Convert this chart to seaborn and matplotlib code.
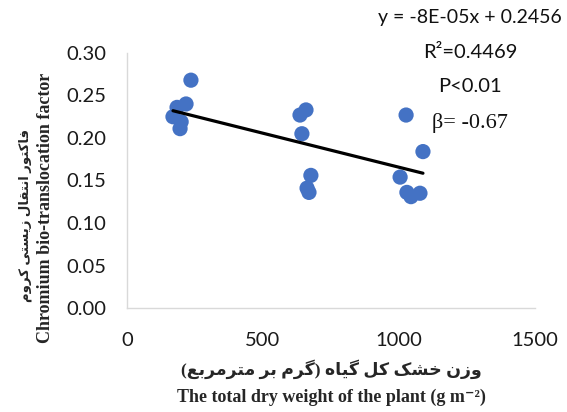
import numpy as np
import pandas as pd
import matplotlib
matplotlib.use("Agg")
import matplotlib.pyplot as plt
import seaborn as sns

# dry weight (g m-2) vs chromium bio-translocation factor
dry_weight = [235, 217, 184, 169, 199, 195,
              636, 658, 643, 676, 662, 669,
              1026, 1088, 1004, 1029, 1044, 1077]
transloc = [0.268, 0.240, 0.236, 0.225, 0.219, 0.211,
            0.227, 0.233, 0.205, 0.156, 0.141, 0.136,
            0.227, 0.184, 0.154, 0.136, 0.131, 0.135]

slope = -8e-05
intercept = 0.2456
r2 = 0.4469
beta = -0.67

x_ticks = [0, 500, 1000, 1500]
y_ticks = [0.00, 0.05, 0.10, 0.15, 0.20, 0.25, 0.30]

ylabel_fa = "فاکتور انتقال زیستی کروم"
ylabel_en = "Chromium bio-translocation factor"
xlabel_fa = "وزن خشک کل گیاه (گرم بر مترمربع)"
xlabel_en = "The total dry weight of the plant (g m⁻²)"

# matplotlib has no arabic shaping, so pick presentation forms by hand
# (isolated, final, initial, medial)
FORMS = {
    'ا': ('\uFE8D', '\uFE8E', None, None),
    'ب': ('\uFE8F', '\uFE90', '\uFE91', '\uFE92'),
    'ت': ('\uFE95', '\uFE96', '\uFE97', '\uFE98'),
    'خ': ('\uFEA5', '\uFEA6', '\uFEA7', '\uFEA8'),
    'ر': ('\uFEAD', '\uFEAE', None, None),
    'ز': ('\uFEAF', '\uFEB0', None, None),
    'س': ('\uFEB1', '\uFEB2', '\uFEB3', '\uFEB4'),
    'ش': ('\uFEB5', '\uFEB6', '\uFEB7', '\uFEB8'),
    'ع': ('\uFEC9', '\uFECA', '\uFECB', '\uFECC'),
    'ف': ('\uFED1', '\uFED2', '\uFED3', '\uFED4'),
    'ق': ('\uFED5', '\uFED6', '\uFED7', '\uFED8'),
    'ل': ('\uFEDD', '\uFEDE', '\uFEDF', '\uFEE0'),
    'م': ('\uFEE1', '\uFEE2', '\uFEE3', '\uFEE4'),
    'ن': ('\uFEE5', '\uFEE6', '\uFEE7', '\uFEE8'),
    'ه': ('\uFEE9', '\uFEEA', '\uFEEB', '\uFEEC'),
    'و': ('\uFEED', '\uFEEE', None, None),
    'ک': ('\uFB8E', '\uFB8F', '\uFB90', '\uFB91'),
    'گ': ('\uFB92', '\uFB93', '\uFB94', '\uFB95'),
    'ی': ('\uFBFC', '\uFBFD', '\uFBFE', '\uFBFF'),
}


def shape_fa(text):
    out = []
    for i, ch in enumerate(text):
        if ch not in FORMS:
            out.append(ch)
            continue
        prev = text[i - 1] if i > 0 else None
        nxt = text[i + 1] if i + 1 < len(text) else None
        joins_prev = prev in FORMS and FORMS[prev][2] is not None
        joins_next = FORMS[ch][2] is not None and nxt in FORMS
        if joins_prev and joins_next:
            out.append(FORMS[ch][3])
        elif joins_prev:
            out.append(FORMS[ch][1])
        elif joins_next:
            out.append(FORMS[ch][2])
        else:
            out.append(FORMS[ch][0])
    vis = "".join(out)[::-1]
    return vis.translate(str.maketrans("()", ")("))


sns.set_style("white")
plt.rcParams['font.family'] = ['Lato', 'DejaVu Sans']

fig = plt.figure(figsize=(5.67, 4.12), dpi=100)
ax = fig.add_axes([0.224, 0.2524, 0.7196, 0.619])

df = pd.DataFrame({"w": dry_weight, "tf": transloc})
sns.scatterplot(data=df, x="w", y="tf", ax=ax, color="#4472C4", s=120,
                edgecolor="none", zorder=3)

# trendline from the reported equation
xl = np.array([min(dry_weight), max(dry_weight)])
sns.lineplot(x=xl, y=slope * xl + intercept, ax=ax, color="black",
             linewidth=2.3, zorder=4)

ax.set_xlim(0, 1500)
ax.set_ylim(0, 0.30)
ax.set_xticks(x_ticks)
ax.set_yticks(y_ticks)
ax.set_xticklabels([str(t) for t in x_ticks])
ax.set_yticklabels(["{:.2f}".format(t) for t in y_ticks])
ax.tick_params(labelsize=14.5, length=0, colors="#1a1a1a")
ax.tick_params(axis="y", pad=15)
ax.tick_params(axis="x", pad=17)
ax.set_xlabel("")
ax.set_ylabel("")
for s in ["top", "right"]:
    ax.spines[s].set_visible(False)
for s in ["left", "bottom"]:
    ax.spines[s].set_color("#d9d9d9")
    ax.spines[s].set_linewidth(1)

lab_font = ['Liberation Serif', 'DejaVu Sans']
fig.text(0.044, 0.478, shape_fa(ylabel_fa), rotation=90, ha="center", va="center",
         family=lab_font, fontweight="bold", fontsize=9.5)
fig.text(0.081, 0.495, ylabel_en, rotation=90, ha="center", va="center",
         family=lab_font, fontweight="bold", fontsize=13)
fig.text(0.584, 1 - 369 / 412, shape_fa(xlabel_fa), ha="center", va="center",
         family=lab_font, fontweight="bold", fontsize=12.5)
fig.text(0.584, 1 - 397 / 412, xlabel_en, ha="center", va="center",
         family=lab_font, fontweight="bold", fontsize=13)

# regression stats in the top right
fig.text(0.829, 1 - 17 / 412, "y = {:.0E}x + {}".format(slope, intercept),
         ha="center", va="center", fontsize=14, color="#111111")
fig.text(0.829, 1 - 53 / 412, "R²={}".format(r2), ha="center", va="center",
         fontsize=14.5, color="#111111")
fig.text(0.829, 1 - 86 / 412, "P<0.01", ha="center", va="center",
         fontsize=14.5, color="#111111")
fig.text(0.829, 1 - 123 / 412, "β= {}".format(beta), ha="center", va="center",
         family=['Liberation Serif', 'DejaVu Sans'], fontsize=16, color="#111111")

fig.savefig("out.png", dpi=100)
